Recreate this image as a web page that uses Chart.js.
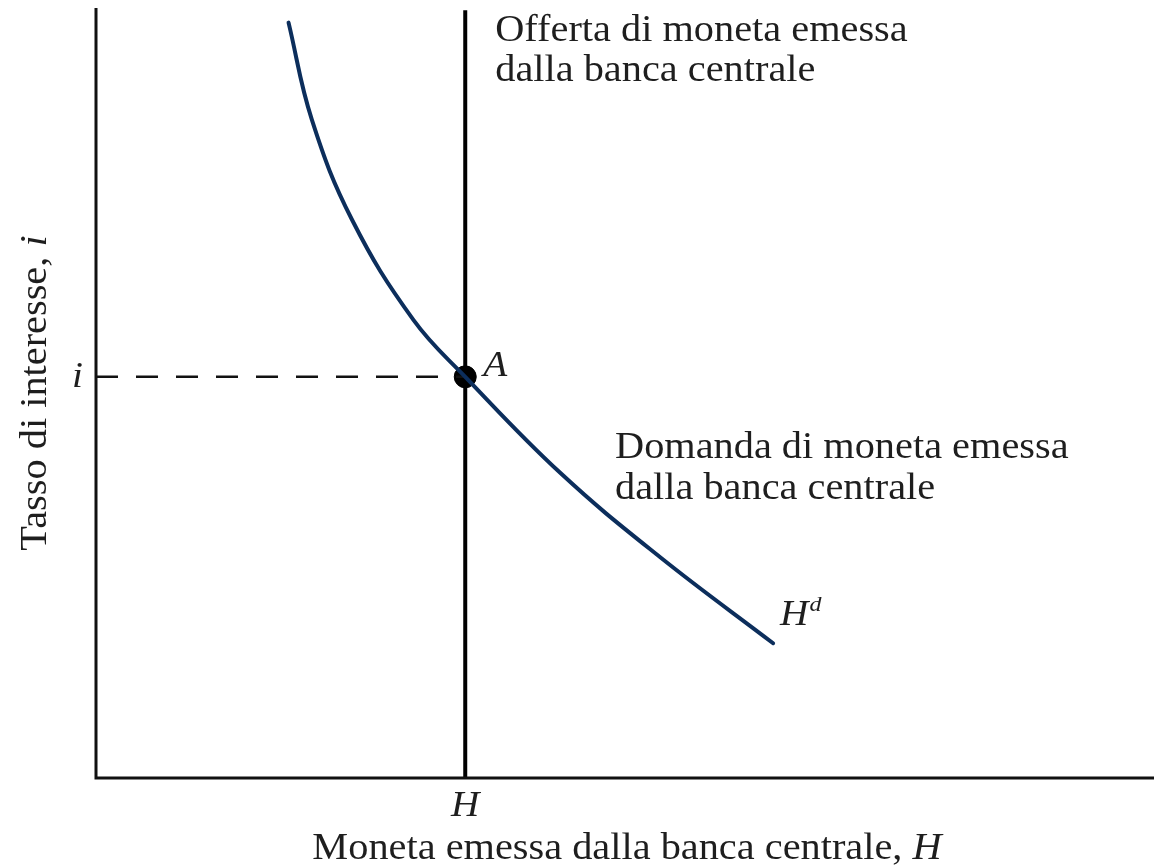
<!DOCTYPE html>
<html>
<head>
<meta charset="utf-8">
<script src="https://cdn.jsdelivr.net/npm/chart.js@4"></script>
<style>
  body { margin: 0; background: #fff; }
  #wrap { width: 1154px; height: 866px; }
</style>
</head>
<body>
<div id="wrap"><canvas id="moneyChart" width="1154" height="866"></canvas></div>
<script>
// domanda di moneta (curva Hd)
const demandH = [18.2, 20.4, 24.2, 30.0, 34.9, 43.9, 53.3, 64.0];
const demandI = [98.1, 85.5, 72.5, 59.5, 52.1, 39.6, 28.7, 17.5];
// equilibrio A
const supplyH = 34.9;
const eqRate = 52.1;
const axisMax = 100;

const serif = '"Liberation Serif", "DejaVu Serif", serif';
const ink = '#1e1e1e';
const stretch = 1.09; // the original face is wider than Liberation Serif

const demandData = demandH.map((h, k) => ({ x: h, y: demandI[k] }));

// draw a line of text made of [text, italic] pieces
function drawPieces(ctx, pieces, x, y, size, align) {
  let total = 0;
  const widths = pieces.map(p => {
    ctx.font = (p[1] ? 'italic ' : '') + size + 'px ' + serif;
    const w = ctx.measureText(p[0]).width * stretch;
    total += w;
    return w;
  });
  let cx = align === 'center' ? x - total / 2 : x;
  ctx.textAlign = 'left';
  pieces.forEach((p, k) => {
    ctx.font = (p[1] ? 'italic ' : '') + size + 'px ' + serif;
    ctx.save();
    ctx.translate(cx, y);
    ctx.scale(stretch, 1);
    ctx.fillText(p[0], 0, 0);
    ctx.restore();
    cx += widths[k];
  });
}

const labelsPlugin = {
  id: 'labels',
  afterDraw(chart) {
    const ctx = chart.ctx;
    const xs = chart.scales.x, ys = chart.scales.y;
    const a = chart.chartArea;
    ctx.save();
    // axes
    ctx.strokeStyle = '#111';
    ctx.lineWidth = 3;
    ctx.beginPath();
    ctx.moveTo(a.left, a.top);
    ctx.lineTo(a.left, a.bottom);
    ctx.lineTo(a.right, a.bottom);
    ctx.stroke();

    ctx.fillStyle = ink;
    ctx.textBaseline = 'alphabetic';
    const hx = xs.getPixelForValue(supplyH);
    const iy = ys.getPixelForValue(eqRate);

    drawPieces(ctx, [['Offerta di moneta emessa', false]], hx + 30, 41, 37, 'left');
    drawPieces(ctx, [['dalla banca centrale', false]], hx + 30, 81, 37, 'left');
    drawPieces(ctx, [['Domanda di moneta emessa', false]], 615, 458, 37, 'left');
    drawPieces(ctx, [['dalla banca centrale', false]], 615, 499, 37, 'left');
    drawPieces(ctx, [['A', true]], hx + 18, iy - 1, 36, 'left');
    drawPieces(ctx, [['i', true]], a.left - 24, iy + 10, 36, 'left');
    drawPieces(ctx, [['H', true]], hx, a.bottom + 38, 36, 'center');
    drawPieces(ctx, [['Moneta emessa dalla banca centrale, ', false], ['H', true]], 627, 859, 37, 'center');

    // Hd label
    const last = demandData[demandData.length - 1];
    const lx = xs.getPixelForValue(last.x) + 7, ly = ys.getPixelForValue(last.y) - 18;
    drawPieces(ctx, [['H', true]], lx, ly, 36, 'left');
    ctx.font = 'italic 36px ' + serif;
    const wH = ctx.measureText('H').width * stretch;
    drawPieces(ctx, [['d', true]], lx + wH + 1, ly - 14, 22, 'left');

    // y axis title
    ctx.translate(46, 393);
    ctx.rotate(-Math.PI / 2);
    drawPieces(ctx, [['Tasso di interesse, ', false], ['i', true]], 0, 0, 37, 'center');
    ctx.restore();
  }
};

new Chart(document.getElementById('moneyChart'), {
  type: 'line',
  data: {
    datasets: [
      {
        label: 'Hd',
        data: demandData,
        borderColor: '#0c2e5c',
        borderWidth: 4,
        borderCapStyle: 'round',
        pointRadius: 0,
        tension: 0.4
      },
      {
        label: 'Offerta',
        data: [{ x: supplyH, y: 0 }, { x: supplyH, y: axisMax - 0.3 }],
        borderColor: '#000',
        borderWidth: 4,
        pointRadius: 0
      },
      {
        label: 'tasso',
        data: [{ x: 0, y: eqRate }, { x: supplyH, y: eqRate }],
        borderColor: '#111',
        borderWidth: 2.5,
        borderDash: [22, 18],
        pointRadius: 0
      },
      {
        label: 'A',
        data: [{ x: supplyH, y: eqRate }],
        showLine: false,
        pointRadius: 11,
        pointBackgroundColor: '#000',
        pointBorderColor: '#000'
      }
    ]
  },
  options: {
    responsive: false,
    animation: false,
    layout: { autoPadding: false, padding: { left: 96, top: 8, right: 0, bottom: 88 } },
    plugins: {
      legend: { display: false },
      tooltip: { enabled: false }
    },
    scales: {
      x: { type: 'linear', min: 0, max: axisMax, display: false },
      y: { type: 'linear', min: 0, max: axisMax, display: false }
    }
  },
  plugins: [labelsPlugin]
});
</script>
</body>
</html>
